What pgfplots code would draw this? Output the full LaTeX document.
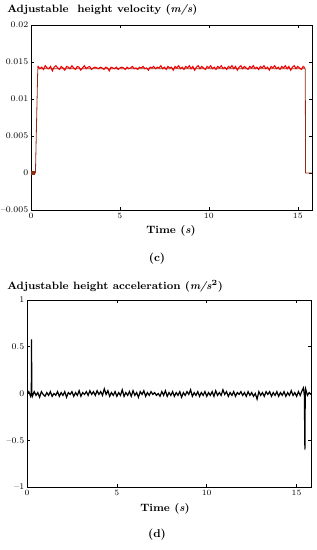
\documentclass[border=0pt]{standalone}
\usepackage{pgfplots}
\pgfplotsset{compat=1.18}
\definecolor{vred}{RGB}{240,0,0}
\definecolor{vbrown}{RGB}{140,45,20}
\begin{document}
\begin{tikzpicture}
\path[use as bounding box] (0pt,0pt) rectangle (237.75pt,-412.5pt);
\pgfplotsset{
  myax/.style={
    scale only axis,
    anchor=north west,
    xmin=0, xmax=15.8,
    xtick={0,5,10,15},
    tick align=inside,
    major tick length=2.5pt,
    axis line style={black, line width=0.5pt},
    tick style={black, line width=0.4pt},
    ticklabel style={font=\fontsize{6.5}{7}\selectfont},
    xticklabel style={yshift=1pt},
    yticklabel style={xshift=1.5pt},
    scaled ticks=false,
    clip=true,
  }
}
\begin{axis}[myax, at={(23.25pt,-18.75pt)}, width=210.75pt, height=138.75pt,
  ymin=-0.005, ymax=0.02,
  ytick={-0.005,0,0.005,0.01,0.015,0.02},
  yticklabels={--0.005,0,0.005,0.01,0.015,0.02}]
\addplot[vbrown, line width=2.4pt] coordinates {(0,0) (0.22,0)};
\addplot[vbrown, line width=0.6pt] coordinates {
(0.22,0) (0.25,0) (0.38,0.0141) (15.42,0.0141) (15.44,0) (15.8,0)};
\addplot[vred, line width=0.8pt] coordinates {
(0.38,0.0142)
(0.4,0.0144) (0.5,0.0141) (0.6,0.0143) (0.7,0.0140) (0.8,0.0145) (0.9,0.0142)
(1.0,0.0141) (1.1,0.0144) (1.2,0.0138) (1.3,0.0143) (1.4,0.0145) (1.5,0.0142)
(1.6,0.0140) (1.7,0.0144) (1.8,0.0142) (1.9,0.0139) (2.0,0.0144) (2.1,0.0143)
(2.2,0.0141) (2.3,0.0145) (2.4,0.0142) (2.5,0.0140) (2.6,0.0144) (2.7,0.0143)
(2.8,0.0139) (2.9,0.0142) (3.0,0.0145) (3.1,0.0141) (3.2,0.0143) (3.3,0.0144)
(3.4,0.0140) (3.5,0.0142) (3.6,0.0143) (3.7,0.0142) (3.8,0.0141) (3.9,0.0143)
(4.0,0.0142) (4.1,0.0140) (4.2,0.0143) (4.3,0.0142) (4.4,0.0138) (4.5,0.0143)
(4.6,0.0142) (4.7,0.0141) (4.8,0.0143) (4.9,0.0140) (5.0,0.0142) (5.1,0.0143)
(5.2,0.0142) (5.3,0.0140) (5.4,0.0143) (5.5,0.0141) (5.6,0.0142) (5.7,0.0144)
(5.8,0.0141) (5.9,0.0142) (6.0,0.0140) (6.1,0.0143) (6.2,0.0142) (6.3,0.0144)
(6.4,0.0141) (6.5,0.0142) (6.6,0.0139) (6.7,0.0143) (6.8,0.0142) (6.9,0.0144)
(7.0,0.0141) (7.1,0.0143) (7.2,0.0142) (7.3,0.0145) (7.4,0.0141) (7.5,0.0143)
(7.6,0.0140) (7.7,0.0144) (7.8,0.0142) (7.9,0.0143) (8.0,0.0139) (8.1,0.0144)
(8.2,0.0142) (8.3,0.0145) (8.4,0.0141) (8.5,0.0143) (8.6,0.0140) (8.7,0.0144)
(8.8,0.0142) (8.9,0.0145) (9.0,0.0141) (9.1,0.0144) (9.2,0.0139) (9.3,0.0143)
(9.4,0.0145) (9.5,0.0141) (9.6,0.0144) (9.7,0.0142) (9.8,0.0140) (9.9,0.0144)
(10.0,0.0142) (10.1,0.0145) (10.2,0.0141) (10.3,0.0143) (10.4,0.0140) (10.5,0.0144)
(10.6,0.0142) (10.7,0.0145) (10.8,0.0141) (10.9,0.0143) (11.0,0.0140) (11.1,0.0144)
(11.2,0.0142) (11.3,0.0145) (11.4,0.0141) (11.5,0.0144) (11.6,0.0139) (11.7,0.0143)
(11.8,0.0145) (11.9,0.0141) (12.0,0.0144) (12.1,0.0142) (12.2,0.0140) (12.3,0.0144)
(12.4,0.0142) (12.5,0.0145) (12.6,0.0141) (12.7,0.0143) (12.8,0.0140) (12.9,0.0144)
(13.0,0.0142) (13.1,0.0145) (13.2,0.0141) (13.3,0.0143) (13.4,0.0139) (13.5,0.0144)
(13.6,0.0142) (13.7,0.0145) (13.8,0.0141) (13.9,0.0143) (14.0,0.0140) (14.1,0.0144)
(14.2,0.0142) (14.3,0.0145) (14.4,0.0141) (14.5,0.0144) (14.6,0.0139) (14.7,0.0143)
(14.8,0.0145) (14.9,0.0141) (15.0,0.0144) (15.1,0.0142) (15.2,0.0140) (15.3,0.0144)
(15.4,0.0142)
};
\end{axis}
\begin{axis}[myax, at={(20.25pt,-225pt)}, width=213pt, height=140.25pt,
  ymin=-1, ymax=1,
  ytick={-1,-0.5,0,0.5,1},
  yticklabels={--1,--0.5,0,0.5,1}]
\addplot[black, line width=0.9pt] coordinates {
(0.0,-0.01) (0.1,0.02) (0.2,-0.03) (0.24,0.0) (0.25,0.58) (0.27,0.01) (0.3,-0.03)
(0.4,0.02) (0.5,-0.02) (0.6,0.01) (0.7,-0.04) (0.8,0.02) (0.9,-0.01)
(1.0,-0.03) (1.1,0.01) (1.2,-0.02) (1.3,0.02) (1.4,-0.03) (1.5,0.00)
(1.6,-0.02) (1.7,0.02) (1.8,-0.03) (1.9,0.01) (2.0,-0.02) (2.1,0.02)
(2.2,-0.04) (2.3,0.01) (2.4,-0.01) (2.5,0.02) (2.6,-0.03) (2.7,0.01)
(2.8,-0.02) (2.9,0.03) (3.0,-0.03) (3.1,0.01) (3.2,-0.01) (3.3,0.02)
(3.4,-0.02) (3.5,0.03) (3.6,-0.01) (3.7,0.02) (3.8,-0.02) (3.9,0.03)
(4.0,-0.01) (4.1,0.02) (4.2,-0.02) (4.3,0.05) (4.4,-0.01) (4.5,0.03)
(4.6,-0.03) (4.7,0.01) (4.8,-0.02) (4.9,0.02) (5.0,-0.03) (5.1,0.01)
(5.2,-0.02) (5.3,0.04) (5.4,-0.03) (5.5,0.01) (5.6,-0.02) (5.7,0.02)
(5.8,-0.03) (5.9,0.03) (6.0,-0.02) (6.1,0.01) (6.2,-0.04) (6.3,0.02)
(6.4,-0.01) (6.5,0.03) (6.6,-0.03) (6.7,0.01) (6.8,-0.02) (6.9,0.02)
(7.0,-0.01) (7.1,0.01) (7.2,-0.02) (7.3,0.00) (7.4,-0.03) (7.5,0.02)
(7.6,-0.02) (7.7,0.03) (7.8,-0.03) (7.9,0.01) (8.0,-0.02) (8.1,0.02)
(8.2,-0.03) (8.3,0.01) (8.4,-0.02) (8.5,0.02) (8.6,-0.04) (8.7,0.01)
(8.8,-0.02) (8.9,0.02) (9.0,-0.01) (9.1,0.04) (9.2,-0.03) (9.3,0.01)
(9.4,-0.02) (9.5,0.02) (9.6,-0.03) (9.7,0.01) (9.8,-0.02) (9.9,0.02)
(10.0,-0.03) (10.1,0.01) (10.2,-0.02) (10.3,0.02) (10.4,-0.03) (10.5,0.03)
(10.6,-0.02) (10.7,0.01) (10.8,-0.02) (10.9,0.04) (11.0,-0.01) (11.1,0.02)
(11.2,-0.03) (11.3,0.01) (11.4,-0.02) (11.5,0.02) (11.6,-0.03) (11.7,0.01)
(11.8,-0.01) (11.9,0.02) (12.0,-0.02) (12.1,0.01) (12.2,-0.03) (12.3,0.02)
(12.4,-0.02) (12.5,0.01) (12.6,-0.03) (12.7,0.00) (12.8,-0.06) (12.9,0.02)
(13.0,-0.02) (13.1,0.01) (13.2,-0.03) (13.3,0.02) (13.4,-0.01) (13.5,0.02)
(13.6,-0.03) (13.7,0.01) (13.8,-0.02) (13.9,0.02) (14.0,-0.03) (14.1,0.01)
(14.2,-0.02) (14.3,0.02) (14.4,-0.03) (14.5,0.01) (14.6,-0.02) (14.7,0.03)
(14.8,-0.02) (14.9,0.01) (15.0,-0.03) (15.1,0.02) (15.2,-0.02) (15.3,0.03)
(15.38,0.06) (15.43,-0.02) (15.46,-0.6) (15.48,0.01) (15.5,0.05) (15.6,-0.02)
(15.7,0.01) (15.8,-0.01)
};
\end{axis}
\node[anchor=west, font=\fontsize{8}{9}\selectfont\bfseries, inner sep=0pt] at (5.25pt,-7.1pt) {Adjustable\ \ height velocity (\textit{m/s})};
\node[font=\fontsize{8}{9}\selectfont\bfseries, inner sep=0pt] at (128.25pt,-173.25pt) {Time (\textit{s})};
\node[font=\fontsize{8.5}{9}\selectfont\bfseries, inner sep=0pt] at (117.75pt,-194.25pt) {(c)};
\node[anchor=west, font=\fontsize{8}{9}\selectfont\bfseries, inner sep=0pt] at (5.25pt,-214.5pt) {Adjustable height acceleration (\textit{m/s}\textsuperscript{2})};
\node[font=\fontsize{8}{9}\selectfont\bfseries, inner sep=0pt] at (123.75pt,-381.75pt) {Time (\textit{s})};
\node[font=\fontsize{8.5}{9}\selectfont\bfseries, inner sep=0pt] at (117.75pt,-401.25pt) {(d)};
\end{tikzpicture}
\end{document}
